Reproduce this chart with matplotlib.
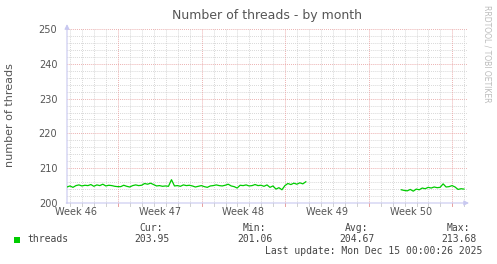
"""
Munin-style "Number of threads - by month" graph, redrawn with matplotlib.
"""

import numpy as np
import matplotlib
matplotlib.use("Agg")
import matplotlib.pyplot as plt
import matplotlib.patches as mpatches

# ── Data ──────────────────────────────────────────────────────────────────────

STEP_DAYS = 0.25          # one sample every 6 hours
X_SPAN    = 33.5          # days shown on the month graph

threads_seg1 = [
    204.6, 204.9, 204.5, 205.0, 205.2, 204.9, 205.1, 205.0, 205.3, 204.8,
    205.2, 205.0, 205.4, 204.9, 205.1, 205.0, 204.8, 204.7, 204.7, 205.1,
    204.8, 204.6, 205.0, 205.2, 205.0, 205.1, 205.6, 205.4, 205.7, 205.3,
    204.9, 205.0, 204.8, 204.9, 204.8, 206.7, 204.9, 205.0, 204.8, 205.2,
    205.0, 205.1, 204.9, 204.6, 204.8, 205.0, 204.7, 204.5, 204.9, 205.0,
    205.2, 205.0, 204.9, 205.1, 205.4, 204.9, 204.7, 204.3, 205.1, 205.0,
    205.2, 204.9, 205.0, 205.3, 205.0, 205.1, 204.8, 205.2, 204.5, 204.9,
    204.0, 204.4, 203.8, 205.0, 205.6, 205.3, 205.7, 205.4, 205.8, 205.5,
    206.1,
]
gap_samples = 31
threads_seg2 = [
    203.8, 203.6, 203.5, 203.9, 203.4, 204.0, 203.8, 204.3, 204.1, 204.5,
    204.3, 204.6, 204.4, 204.5, 205.5, 204.6, 204.7, 205.0, 204.6, 203.9,
    204.1, 204.0,
]

week_labels = ["Week 46", "Week 47", "Week 48", "Week 49", "Week 50"]
first_week_line = 4.275   # days from left edge to first week boundary

y_min, y_max = 200, 250
legend_name = "threads"
stats = {"Cur:": "203.95", "Min:": "201.06", "Avg:": "204.67", "Max:": "213.68"}
last_update = "Last update: Mon Dec 15 00:00:26 2025"

threads = np.array(threads_seg1 + [np.nan] * gap_samples + threads_seg2)
days = np.arange(len(threads)) * STEP_DAYS

# ── Style ─────────────────────────────────────────────────────────────────────

GREEN   = "#00cc00"
TEXT    = "#555555"
MINOR   = "#d0d0d0"
MAJOR   = "#e8a0a0"
AXIS    = "#c8c8f0"

W, H = 497, 264
fig = plt.figure(figsize=(W / 100, H / 100), dpi=100)
fig.patch.set_facecolor("white")

left, right, top, bottom = 67, 467, 29, 203
ax = fig.add_axes([left / W, 1 - bottom / H, (right - left) / W, (bottom - top) / H])
ax.set_xlim(0, X_SPAN)
ax.set_ylim(y_min, y_max)
for s in ax.spines.values():
    s.set_visible(False)

dots = dict(linestyle=(0, (0.8, 1.2)), linewidth=0.7)

# horizontal grid
for v in range(y_min, y_max + 1, 2):
    col = MAJOR if v % 10 == 0 else MINOR
    ax.axhline(v, color=col, zorder=1, **dots)

# vertical grid: days (minor) and week boundaries (major)
d = first_week_line % 1.0
while d <= X_SPAN:
    is_week = abs(((d - first_week_line) / 7) - round((d - first_week_line) / 7)) < 1e-6
    ax.axvline(d, color=MAJOR if is_week else MINOR, zorder=1, **dots)
    ax.plot([d, d], [y_min - 0.9, y_min], color=MAJOR if is_week else MINOR,
            lw=0.7, clip_on=False, zorder=1)
    d += 1.0

# axes with arrows
ax.annotate("", xy=(0, y_max + 2.2), xytext=(0, y_min - 0.9),
            arrowprops=dict(arrowstyle="-|>", color=AXIS, lw=0.8,
                            mutation_scale=7), annotation_clip=False)
ax.annotate("", xy=(X_SPAN + 0.4, y_min), xytext=(-0.3, y_min),
            arrowprops=dict(arrowstyle="-|>", color=AXIS, lw=0.8,
                            mutation_scale=7), annotation_clip=False)

ax.plot(days, threads, color=GREEN, linewidth=0.9, zorder=3)

# ticks
label_pos = [first_week_line - 3.5 + 7 * k for k in range(len(week_labels))]
ax.set_xticks(label_pos)
ax.set_xticklabels(week_labels)
ax.set_yticks(range(y_min, y_max + 1, 10))
ax.tick_params(axis="both", length=0, labelsize=7, colors=TEXT)
ax.tick_params(axis="x", pad=3)
ax.tick_params(axis="y", pad=7)

ax.set_title("Number of threads - by month", fontsize=9, color=TEXT, pad=7)
fig.text(10 / W, 1 - 115 / H, "number of threads", rotation=90, fontsize=8,
         color=TEXT, ha="center", va="center")
fig.text(487 / W, 1 - 5 / H, "RRDTOOL / TOBI OETIKER", rotation=-90, fontsize=5.5,
         color="#bbbbbb", ha="center", va="top")

# ── Legend ────────────────────────────────────────────────────────────────────

mono = dict(family="DejaVu Sans Mono", fontsize=7, color="#444444")
fig.patches.append(mpatches.Rectangle((14 / W, 1 - 243 / H), 6 / W, 6 / H,
                                      transform=fig.transFigure,
                                      facecolor=GREEN, edgecolor="none"))
fig.text(27 / W, 1 - 239.5 / H, legend_name, ha="left", va="center", **mono)

label_right = [163, 266, 368, 470]
for xr, (lab, val) in zip(label_right, stats.items()):
    fig.text(xr / W, 1 - 228 / H, lab, ha="right", va="center", **mono)
    fig.text((xr + 7) / W, 1 - 239.5 / H, val, ha="right", va="center", **mono)

fig.text(482 / W, 1 - 251 / H, last_update, ha="right", va="center", **mono)

fig.savefig("out.png", dpi=100, facecolor="white")
